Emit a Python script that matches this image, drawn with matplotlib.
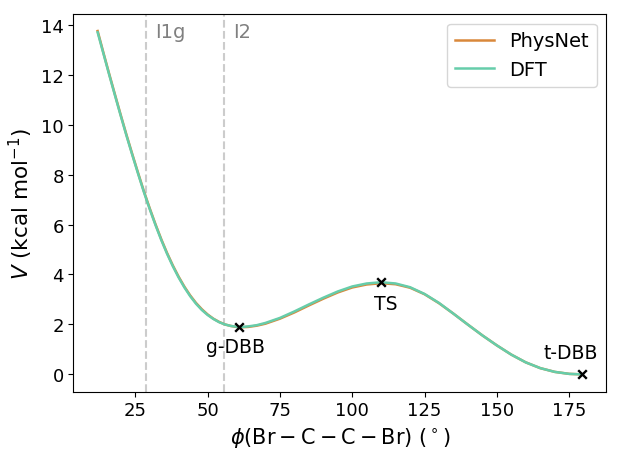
import matplotlib
matplotlib.use("Agg")
import matplotlib.pyplot as plt

# Dihedral angle (deg) and energies (kcal/mol)
phi = [12, 14, 16, 18, 20, 22, 24, 26, 28, 30, 32, 34, 36, 38, 40, 42, 44, 46, 48,
       50, 52, 54, 56, 58, 60, 62, 64, 67, 70, 75, 80, 85, 90, 95, 100, 105, 110,
       115, 120, 125, 130, 135, 140, 145, 150, 155, 160, 165, 170, 175, 179.5]
v_dft = [13.70, 12.85, 12.00, 11.17, 10.35, 9.55, 8.78, 8.03, 7.30, 6.62, 5.98,
         5.38, 4.83, 4.33, 3.88, 3.48, 3.13, 2.83, 2.58, 2.38, 2.22, 2.09, 2.00,
         1.94, 1.91, 1.90, 1.92, 1.97, 2.06, 2.26, 2.52, 2.80, 3.07, 3.32, 3.52,
         3.64, 3.69, 3.64, 3.49, 3.22, 2.86, 2.43, 1.99, 1.56, 1.16, 0.79, 0.48,
         0.25, 0.10, 0.02, 0.00]
v_physnet = [13.75, 12.88, 12.03, 11.20, 10.38, 9.58, 8.81, 8.06, 7.33, 6.65, 6.01,
             5.41, 4.86, 4.36, 3.91, 3.51, 3.16, 2.86, 2.61, 2.40, 2.23, 2.10, 2.00,
             1.94, 1.90, 1.89, 1.90, 1.95, 2.03, 2.23, 2.48, 2.76, 3.03, 3.28, 3.48,
             3.60, 3.65, 3.61, 3.47, 3.21, 2.85, 2.43, 1.99, 1.56, 1.16, 0.79, 0.48,
             0.25, 0.10, 0.02, 0.00]

# Stationary points
pt_names = ["g-DBB", "TS", "t-DBB"]
pt_phi = [61.0, 110.0, 179.5]
pt_v = [1.90, 3.68, 0.00]

# Intermediate markers
int_names = ["I1g", "I2"]
int_phi = [28.8, 55.8]

c_phys = "#d9883b"
c_dft = "#66cdaa"

fig = plt.figure(figsize=(6.22, 4.64), dpi=100)
ax = fig.add_axes([0.118, 0.154, 0.857, 0.814])

for name, p in zip(int_names, int_phi):
    ax.axvline(p, color="#cccccc", ls="--", lw=1.5, zorder=1)
    ax.text(p + 3.0, 13.75, name, color="#808080", fontsize=14,
            ha="left", va="center")

ax.plot(phi, v_physnet, color=c_phys, lw=1.8, label="PhysNet", zorder=2)
ax.plot(phi, v_dft, color=c_dft, lw=1.8, label="DFT", zorder=3)

ax.scatter(pt_phi, pt_v, marker="x", color="black", s=38, linewidths=1.7, zorder=4)

offsets = {"g-DBB": ((-3, -7), "center", "top"),
           "TS": ((3, -8), "center", "top"),
           "t-DBB": ((-8, 9), "center", "bottom")}
for name, p, v in zip(pt_names, pt_phi, pt_v):
    (dx, dy), ha, va = offsets[name]
    ax.annotate(name, (p, v), xytext=(dx, dy), textcoords="offset points",
                ha=ha, va=va, fontsize=13.5)

ax.set_xticks([25, 50, 75, 100, 125, 150, 175])
ax.set_yticks([0, 2, 4, 6, 8, 10, 12, 14])
ax.tick_params(labelsize=13)
ax.set_xlabel(r"$\phi(\mathrm{Br-C-C-Br})\ (^\circ)$", fontsize=15)
ax.set_ylabel(r"$V$ (kcal mol$^{-1}$)", fontsize=15.5)
ax.legend(loc="upper right", fontsize=14)

fig.savefig("out.png", dpi=100)
